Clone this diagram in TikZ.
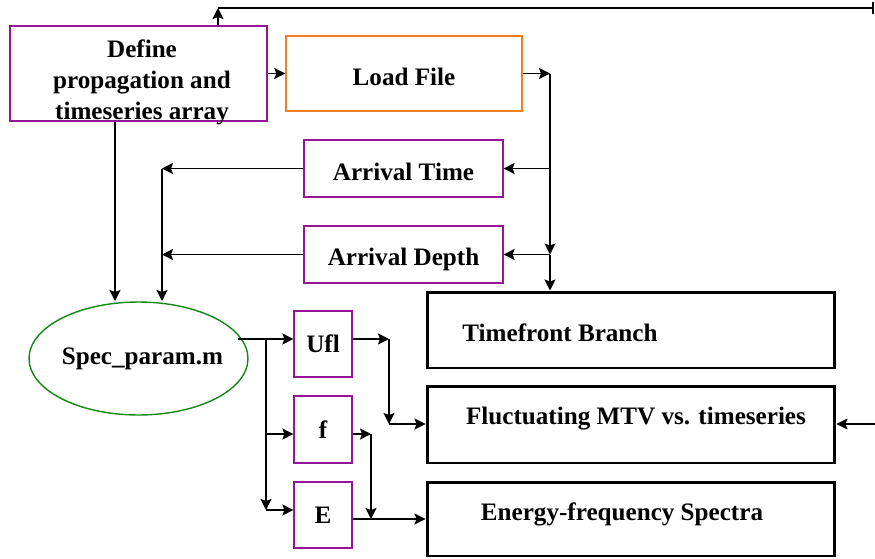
\documentclass[tikz,border=0pt]{standalone}
\usepackage{fontspec}
\setmainfont{Liberation Serif}
\usetikzlibrary{arrows.meta,shapes.geometric}
\definecolor{boxpurple}{RGB}{150,20,150}
\definecolor{boxorange}{RGB}{245,125,35}
\definecolor{boxgreen}{RGB}{20,135,20}
\tikzset{
  pbox/.style  = {rectangle, draw=boxpurple, line width=0.7pt, align=center, inner sep=0pt},
  obox/.style  = {rectangle, draw=boxorange, line width=0.8pt, align=center, inner sep=0pt},
  bbox/.style  = {rectangle, draw, line width=1.7pt, inner sep=0pt},
  spec/.style  = {ellipse, draw=boxgreen, line width=0.8pt, inner sep=0pt},
  flow/.style  = {-{Stealth[length=2.2mm,width=2.2mm,inset=0.4mm]}, line width=1.1pt},
  bflow/.style = {-{Bar[width=2.4mm]}, line width=1.1pt},
}
\newcommand{\droptext}[2]{\raisebox{-#1}[\height][\depth]{#2}}

\begin{document}
\begin{tikzpicture}[x=0.02cm,y=-0.02cm,
    every node/.style={font=\bfseries\fontsize{14.3}{17.6}\selectfont}]
    \useasboundingbox (0,0) rectangle (875,558);
    % nodes
    \node[pbox,minimum width=5.14cm,minimum height=1.9cm] (define) at (138.5,73.5)
      {\hspace*{0.14cm}\droptext{0.17cm}{%
        \begin{tabular}{@{}c@{}}Define\\propagation and\\timeseries array\end{tabular}}};
    \node[obox,minimum width=4.72cm,minimum height=1.5cm] (load) at (404,73.5)
      {\droptext{0.06cm}{Load File}};
    \node[pbox,minimum width=3.98cm,minimum height=1.14cm] (atime) at (403.5,168.5)
      {\droptext{0.06cm}{Arrival Time}};
    \node[pbox,minimum width=3.98cm,minimum height=1.14cm] (adepth) at (403.5,254.5)
      {\droptext{0.1cm}{Arrival Depth}};
    \node[spec,minimum width=4.38cm,minimum height=2.26cm] (specp) at (138.5,358.5)
      {\hspace*{0.16cm}\makebox[0pt]{Spec\_param.m}};
    \node[pbox,minimum width=1.16cm,minimum height=1.32cm] (ufl) at (323,344) {Ufl};
    \node[pbox,minimum width=1.16cm,minimum height=1.34cm] (f) at (323,429.5) {f};
    \node[pbox,minimum width=1.16cm,minimum height=1.32cm] (E) at (323,515) {E};
    \node[bbox,minimum width=8.16cm,minimum height=1.52cm] (tf) at (631,330) {};
    \node[bbox,minimum width=8.16cm,minimum height=1.54cm] (fl) at (631,424.5) {};
    \node[bbox,minimum width=8.16cm,minimum height=1.48cm] (en) at (631,519) {};
    \node (tftext) at (560,333) {Timefront Branch};
    \node (fltext) at (636,419) {Fluctuating MTV vs. timeseries};
    \node (entext) at (622,514) {Energy-frequency Spectra};
    % junctions
    \coordinate (top1) at (218,8);
    \coordinate (top2) at (874,8);
    \coordinate (j1) at (550,73.5);
    \coordinate (j2) at (162,168.5);
    \coordinate (j3) at (115,301);
    \coordinate (s0) at (238,339);
    \coordinate (j4) at (266,339);
    \coordinate (j5) at (266,510);
    \coordinate (j6) at (389,339);
    \coordinate (j7) at (389,424);
    \coordinate (j8) at (371,434);
    \coordinate (j9) at (371,519);
    \coordinate (r1) at (875,424);
    % edges
    \draw[flow] (define.north -| top1) -- (top1);
    \draw[bflow] (top1) -- (top2);
    \draw[flow] (define.east) -- (load.west);
    \draw[flow] (load.east) -- (j1);
    \draw[flow] (j1) -- (j1 |- adepth);
    \draw[flow] (j1 |- adepth) -- (j1 |- tf.north);
    \draw[flow] (j1 |- atime) -- (atime.east);
    \draw[flow] (j1 |- adepth) -- (adepth.east);
    \draw[flow] (atime.west) -- (j2);
    \draw[flow] (adepth.west) -- (j2 |- adepth);
    \draw[flow] (j2) -- (j2 |- j3);
    \draw[flow] (define.south -| j3) -- (j3);
    \draw[flow] (s0) -- (ufl.west |- s0);
    \draw[flow] (j4) -- (j5);
    \draw[flow] (j5) -- (E.west |- j5);
    \draw[flow] (j4 |- j8) -- (f.west |- j8);
    \draw[flow] (ufl.east |- j6) -- (j6);
    \draw[flow] (j6) -- (j7);
    \draw[flow] (j7) -- (fl.west |- j7);
    \draw[flow] (f.east |- j8) -- (j8);
    \draw[flow] (j8) -- (j9);
    \draw[flow] (E.east |- j9) -- (en.west |- j9);
    \draw[flow] (r1) -- (fl.east |- r1);
\end{tikzpicture}
\end{document}
